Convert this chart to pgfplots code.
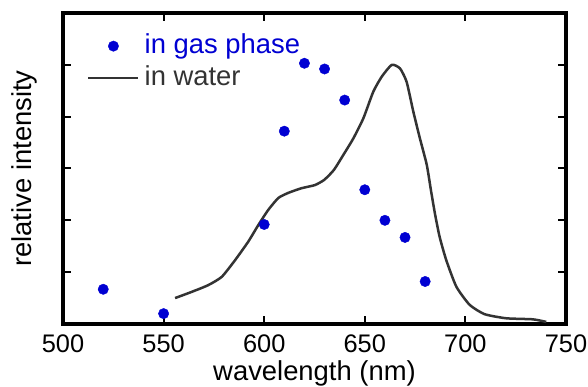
\documentclass[border=0pt]{standalone}
\usepackage{pgfplots}
\pgfplotsset{compat=1.18}
\usepackage{fontspec}
\setmainfont{Liberation Sans}
\definecolor{gasblue}{RGB}{0,0,210}
\definecolor{watergray}{RGB}{51,51,51}
\pgfplotsset{
  gaslegend/.style={legend image code/.code={\draw[##1] plot coordinates {(25bp,0cm)};}},
  waterlegend/.style={legend image code/.code={\draw[##1] (0cm,0cm) -- (50bp,0cm);}},
}
\begin{document}
\begin{tikzpicture}
\begin{axis}[
  name=ax,
  scale only axis,
  width=503bp, height=311bp,
  xmin=500, xmax=750, ymin=0, ymax=6,
  xtick={500,550,...,750},
  ytick={1,2,3,4,5},
  yticklabels={},
  tick align=inside,
  major tick length=8bp,
  every tick/.style={line width=2bp, black},
  axis line style={line width=3.5bp},
  /pgf/number format/assume math mode=true,
  /pgf/number format/1000 sep={},
  tick label style={font=\fontsize{25.5}{28}\selectfont},
  xticklabel style={yshift=-7bp},
  label style={font=\fontsize{27.5}{30}\selectfont},
  xlabel={wavelength (nm)},
  ylabel={relative intensity},
  xlabel style={yshift=-1bp},
  ylabel style={yshift=15bp},
  legend cell align=left,
  legend style={draw=none, fill=none, inner sep=0pt, at={(axis description cs:0.0477,0.842)}, anchor=west,
    font=\fontsize{27.5}{30}\selectfont, row sep=6bp, column sep=5bp,
    nodes={inner sep=0pt, text height=20bp, text depth=6bp}},
  clip=false,
]
\addplot[only marks, mark=*, mark size=5.2bp, color=gasblue, gaslegend]
coordinates {
(520,0.67) (550,0.20) (600,1.92) (610,3.72) (620,5.03) (630,4.92)
(640,4.32) (650,2.59) (660,2.00) (670,1.67) (680,0.82)
};
\addlegendentry{\textcolor{gasblue}{in gas phase}}
\addplot[line width=2.5bp, color=watergray, line join=round, smooth, tension=0.35, waterlegend]
coordinates {
(555.7,0.50) (564.0,0.62) (572.2,0.75) (578.9,0.91) (585.5,1.23) (592.1,1.59)
(597.1,1.91) (602.0,2.20) (607.0,2.43) (612.0,2.53) (618.6,2.62) (625.2,2.68)
(629.8,2.78) (634.6,2.97) (639.3,3.26) (644.3,3.58) (649.3,3.97) (654.2,4.48)
(658.4,4.77) (663.4,5.00) (667.5,4.93) (670.8,4.67) (674.1,4.10) (677.4,3.58)
(680.8,3.07) (683.0,2.55) (685.0,2.10) (687.2,1.68) (690.5,1.23) (695.5,0.72)
(702.1,0.37) (709.5,0.19) (720.3,0.11) (733.5,0.09) (740.2,0.04)
};
\addlegendentry{\textcolor{watergray}{in water}}
\end{axis}
\pgfresetboundingbox
\path ([shift={(-63bp,-63bp)}]ax.south west) rectangle ([shift={(22bp,13bp)}]ax.north east);
\end{tikzpicture}
\end{document}
